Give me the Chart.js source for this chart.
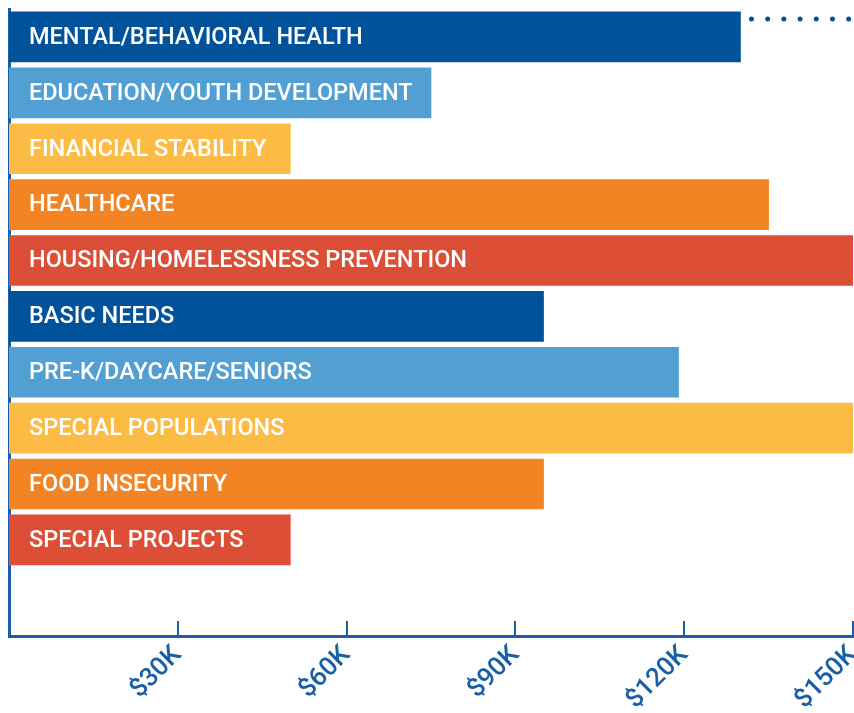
<!DOCTYPE html>
<html>
<head>
<meta charset="utf-8">
<script src="https://cdn.jsdelivr.net/npm/chart.js@4/dist/chart.umd.min.js"></script>
<style>
  html, body { margin: 0; padding: 0; background: #fff; }
  #wrap { width: 854px; height: 713px; position: relative; }
</style>
</head>
<body>
<div id="wrap"><canvas id="myChart"></canvas></div>
<script>
// chart data
var categories = ['MENTAL/BEHAVIORAL HEALTH', 'EDUCATION/YOUTH DEVELOPMENT', 'FINANCIAL STABILITY', 'HEALTHCARE',
    'HOUSING/HOMELESSNESS PREVENTION', 'BASIC NEEDS', 'PRE-K/DAYCARE/SENIORS', 'SPECIAL POPULATIONS',
    'FOOD INSECURITY', 'SPECIAL PROJECTS'];
var amounts = [130, 75, 50, 135, 150, 95, 119, 150, 95, 50]; // thousands of dollars
var tickValues = [30, 60, 90, 120, 150];
var barColors = ['#00529b', '#529fd4', '#fcbb45', '#f28423', '#dc4e35',
    '#00529b', '#529fd4', '#fcbb45', '#f28423', '#dc4e35'];

var axisBlue = '#1a5ea8';

// labels written inside the bars, dotted line and inner tick marks
var extras = {
    id: 'extras',
    afterDatasetsDraw: function (chart) {
        var ctx = chart.ctx;
        var meta = chart.getDatasetMeta(0);
        ctx.save();
        ctx.fillStyle = '#fff';
        ctx.font = '500 23.5px Roboto';
        ctx.textBaseline = 'middle';
        ctx.textAlign = 'left';
        meta.data.forEach(function (bar, i) {
            ctx.fillText(categories[i], bar.base + 20, bar.y + 1);
        });

        // dotted line after the first bar
        var first = meta.data[0];
        var area = chart.chartArea;
        ctx.strokeStyle = '#00529b';
        ctx.lineWidth = 5;
        ctx.lineCap = 'round';
        ctx.setLineDash([0, 16.2]);
        ctx.beginPath();
        ctx.moveTo(first.x + 11, first.y - first.height / 2 + 7);
        ctx.lineTo(area.right, first.y - first.height / 2 + 7);
        ctx.stroke();
        ctx.setLineDash([]);

        // tick marks pointing up from the axis
        var xs = chart.scales.x;
        ctx.strokeStyle = axisBlue;
        ctx.lineWidth = 2;
        ctx.lineCap = 'butt';
        tickValues.forEach(function (v) {
            var px = Math.round(xs.getPixelForValue(v));
            ctx.beginPath();
            ctx.moveTo(px, area.bottom - 15);
            ctx.lineTo(px, area.bottom);
            ctx.stroke();
        });
        ctx.restore();
    }
};

var ctx1 = document.getElementById('myChart').getContext('2d');
var myChart = new Chart(ctx1, {
    type: 'bar',
    data: {
        datasets: [{
            data: amounts.map(function (v, i) { return { x: v, y: i }; }),
            backgroundColor: barColors,
            borderWidth: 0,
            barThickness: 50
        }]
    },
    options: {
        indexAxis: 'y',
        responsive: true,
        maintainAspectRatio: false,
        animation: false,
        layout: { padding: { top: 9, left: 0, right: 1, bottom: 0 } },
        plugins: {
            legend: { display: false },
            tooltip: { enabled: false }
        },
        scales: {
            x: {
                type: 'linear',
                min: 0,
                max: 150,
                afterBuildTicks: function (scale) {
                    scale.ticks = [0].concat(tickValues).map(function (v) { return { value: v }; });
                },
                afterFit: function (scale) {
                    scale.height = 77;
                    scale.paddingLeft = 0;
                    scale.paddingRight = 0;
                },
                ticks: {
                    color: axisBlue,
                    font: { family: 'Roboto', size: 26, weight: '500' },
                    minRotation: 45,
                    maxRotation: 45,
                    padding: 4,
                    callback: function (v) { return v === 0 ? '' : '$' + v + 'K'; }
                },
                grid: { display: false, drawTicks: false },
                border: { display: true, color: axisBlue, width: 3 }
            },
            y: {
                type: 'linear',
                reverse: true,
                offset: false,
                min: -0.5,
                max: 10.72,
                afterFit: function (scale) { scale.width = 9; },
                ticks: { display: false },
                grid: { display: false, drawTicks: false, offset: false },
                border: { display: true, color: axisBlue, width: 3 }
            }
        }
    },
    plugins: [extras]
});
</script>
</body>
</html>
